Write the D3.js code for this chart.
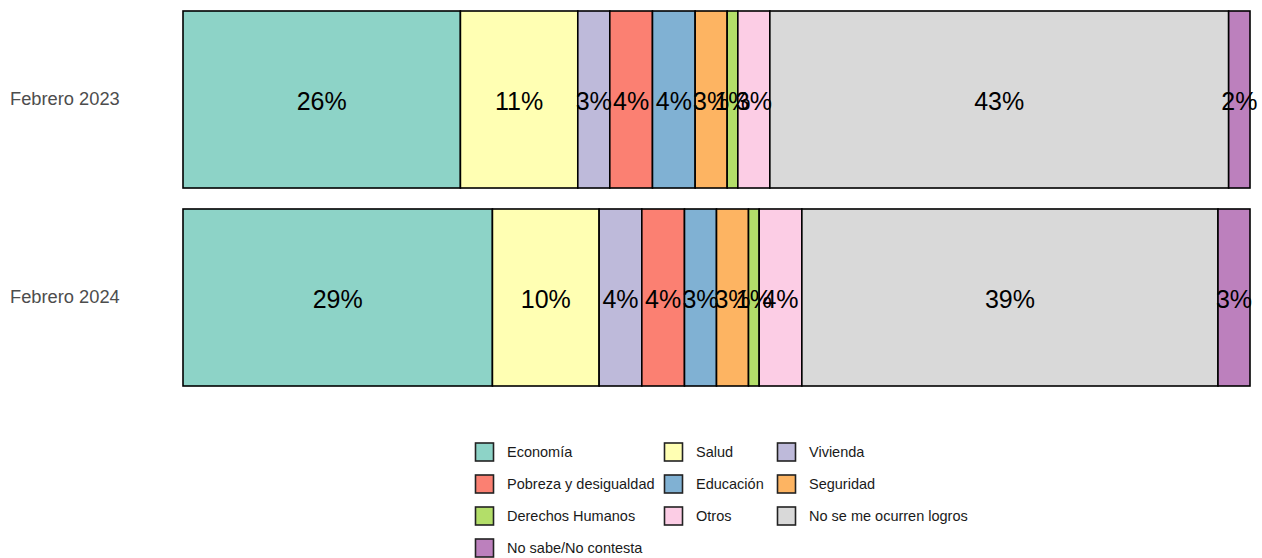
<!DOCTYPE html>
<html>
<head>
<meta charset="utf-8">
<script src="https://cdn.jsdelivr.net/npm/d3@7"></script>
<style>
  body { margin: 0; background: #fff; }
  text { font-family: "Liberation Sans", Arial, sans-serif; }
</style>
</head>
<body>
<div id="chart"></div>
<script>
// datos
var periods = ["Febrero 2023", "Febrero 2024"];
var categories = ["Economía", "Salud", "Vivienda", "Pobreza y desigualdad", "Educación",
  "Seguridad", "Derechos Humanos", "Otros", "No se me ocurren logros", "No sabe/No contesta"];
var values2023 = [26, 11, 3, 4, 4, 3, 1, 3, 43, 2];
var values2024 = [29, 10, 4, 4, 3, 3, 1, 4, 39, 3];
var colors = ["#8dd3c7", "#ffffb3", "#bebada", "#fb8072", "#80b1d3",
  "#fdb462", "#b3de69", "#fccde5", "#d9d9d9", "#bc80bd"];

var w = 1262, h = 558;
var svg = d3.select("#chart").append("svg").attr("width", w).attr("height", h);

var x = d3.scaleLinear().domain([0, 100]).range([183, 1250]);
var y = d3.scaleBand().domain(periods).range([11, 386]).paddingInner(0.106).paddingOuter(0);
var color = d3.scaleOrdinal().domain(categories).range(colors);

var rows = [values2023, values2024].map(function(vals, i) {
  var acc = 0;
  return vals.map(function(v, j) {
    var seg = {period: periods[i], cat: categories[j], v: v, x0: acc, x1: acc + v};
    acc += v;
    return seg;
  });
});
var segs = d3.merge(rows);

svg.selectAll("rect.seg").data(segs).enter().append("rect")
  .attr("class", "seg")
  .attr("x", function(d) { return x(d.x0); })
  .attr("y", function(d) { return y(d.period); })
  .attr("width", function(d) { return x(d.x1) - x(d.x0); })
  .attr("height", y.bandwidth())
  .attr("fill", function(d) { return color(d.cat); })
  .attr("stroke", "#000")
  .attr("stroke-width", 1.6);

svg.selectAll("text.lab").data(segs).enter().append("text")
  .attr("class", "lab")
  .attr("x", function(d) { return (x(d.x0) + x(d.x1)) / 2; })
  .attr("y", function(d) { return y(d.period) + y.bandwidth() / 2 + 1.5; })
  .attr("dy", "0.35em")
  .attr("text-anchor", "middle")
  .attr("font-size", "25px")
  .attr("fill", "#000")
  .text(function(d) { return d.v + "%"; });

// etiquetas eje y
var yAxis = d3.axisLeft(y).tickSize(0).tickPadding(0);
var gy = svg.append("g").attr("transform", "translate(10,0)").call(yAxis);
gy.select(".domain").remove();
gy.selectAll("text")
  .attr("text-anchor", "start")
  .attr("x", 0)
  .attr("font-size", "18.3px")
  .attr("font-family", "Liberation Sans, Arial, sans-serif")
  .attr("fill", "#4d4d4d");

// leyenda
var colX = [475, 664, 777];
var legend = svg.append("g");
var items = legend.selectAll("g").data(categories).enter().append("g")
  .attr("transform", function(d, i) {
    return "translate(" + colX[i % 3] + "," + (452 + Math.floor(i / 3) * 32) + ")";
  });
items.append("rect")
  .attr("x", 0.5).attr("y", -9)
  .attr("width", 18).attr("height", 18)
  .attr("fill", function(d) { return color(d); })
  .attr("stroke", "#222").attr("stroke-width", 1.6);
items.append("text")
  .attr("x", 32)
  .attr("dy", "0.35em")
  .attr("font-size", "14.5px")
  .attr("fill", "#1a1a1a")
  .text(function(d) { return d; });
</script>
</body>
</html>
